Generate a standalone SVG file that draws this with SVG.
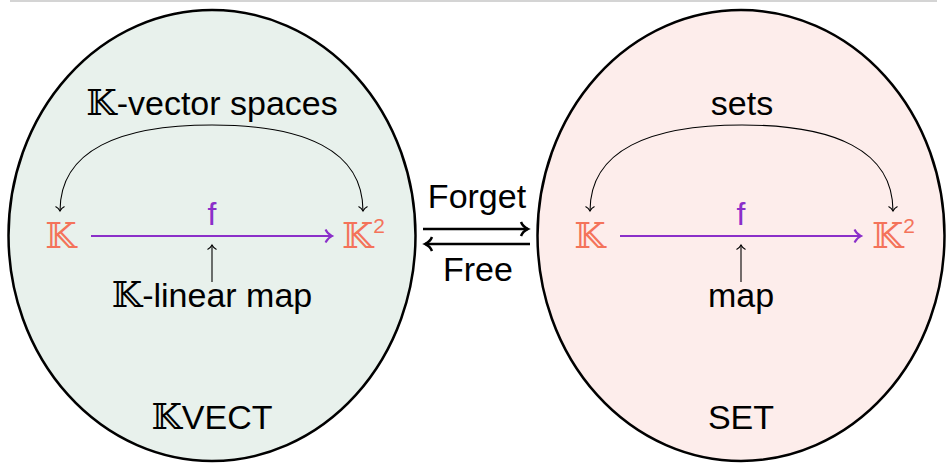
<svg xmlns="http://www.w3.org/2000/svg" width="947" height="465" viewBox="0 0 947 465">
<defs>
<style>
text{font-family:"Liberation Sans","DejaVu Sans",sans-serif;fill:#000;}
.t{font-size:34px;text-anchor:middle;}
.bb{font-family:"DejaVu Serif","DejaVu Sans",serif;font-size:35px;}
.k{font-family:"DejaVu Serif","DejaVu Sans",serif;font-size:36px;fill:#F4735A;}
.sup{font-family:"Liberation Sans","DejaVu Sans",sans-serif;font-size:21px;}
.f{font-size:32px;fill:#8B2FC9;text-anchor:middle;}
.thin{fill:none;stroke:#000;stroke-width:1.1;}
.purple{fill:none;stroke:#8B2FC9;stroke-width:2;}
.thick{fill:none;stroke:#000;stroke-width:2.5;}
</style>
<marker id="toThin" viewBox="-10 -10 20 20" markerWidth="20" markerHeight="20" refX="0" refY="0" orient="auto" markerUnits="userSpaceOnUse">
<path d="M-4.5,-4.5 C-3,-1.5 -0.8,-0.4 0,0 C-0.8,0.4 -3,1.5 -4.5,4.5" fill="none" stroke="#000" stroke-width="1.1"/>
</marker>
<marker id="toPurple" viewBox="-10 -10 20 20" markerWidth="20" markerHeight="20" refX="0" refY="0" orient="auto" markerUnits="userSpaceOnUse">
<path d="M-6.5,-6.5 C-4.5,-2 -1,-0.5 0,0 C-1,0.5 -4.5,2 -6.5,6.5" fill="none" stroke="#8B2FC9" stroke-width="2"/>
</marker>
<marker id="toThick" viewBox="-10 -10 20 20" markerWidth="20" markerHeight="20" refX="0" refY="0" orient="auto" markerUnits="userSpaceOnUse">
<path d="M-7,-7 C-5,-2 -1,-0.5 0,0 C-1,0.5 -5,2 -7,7" fill="none" stroke="#000" stroke-width="2.5"/>
</marker>
</defs>
<rect width="947" height="465" fill="#fff"/>
<line x1="10" y1="1" x2="937" y2="1" stroke="#aaa" stroke-width="1.2"/>

<g id="kvect">
<ellipse cx="212" cy="235.5" rx="203.5" ry="225.5" fill="#E8F1EC" stroke="#000" stroke-width="2.5"/>
<text class="t" x="212" y="429"><tspan class="bb">𝕂</tspan>VECT</text>
</g>
<g id="set">
<ellipse cx="741" cy="235.5" rx="203.5" ry="225.5" fill="#FDEDEB" stroke="#000" stroke-width="2.5"/>
<text class="t" x="741" y="429">SET</text>
</g>

<g id="k-left">
<text class="k" x="61" y="248" text-anchor="middle">𝕂</text>
</g>
<g id="k2-left">
<text class="k" x="342" y="248">𝕂<tspan class="sup" dy="-15">2</tspan></text>
</g>
<g id="k-right">
<text class="k" x="590" y="248" text-anchor="middle">𝕂</text>
</g>
<g id="k2-right">
<text class="k" x="872" y="248">𝕂<tspan class="sup" dy="-15">2</tspan></text>
</g>

<g id="labels">
<text class="t" x="212" y="115"><tspan class="bb">𝕂</tspan>-vector spaces</text>
<text class="t" x="212" y="307"><tspan class="bb">𝕂</tspan>-linear map</text>
<text class="t" x="742" y="115">sets</text>
<text class="t" x="741" y="307">map</text>
<text class="f" x="212" y="225">f</text>
<text class="f" x="741" y="225">f</text>
<text class="t" x="477" y="208">Forget</text>
<text class="t" x="478" y="281">Free</text>
</g>

<g id="connectors">
<path class="thin" d="M212,125 C120,125 60,150 60,211" marker-end="url(#toThin)"/>
<path class="thin" d="M212,125 C304,125 363,150 363,211" marker-end="url(#toThin)"/>
<path class="thin" d="M742,125 C650,125 590,150 590,211" marker-end="url(#toThin)"/>
<path class="thin" d="M742,125 C834,125 893,150 893,211" marker-end="url(#toThin)"/>
<line class="purple" x1="91" y1="236" x2="332" y2="236" marker-end="url(#toPurple)"/>
<line class="purple" x1="620" y1="236" x2="861" y2="236" marker-end="url(#toPurple)"/>
<line class="thin" x1="212" y1="282" x2="212" y2="245" marker-end="url(#toThin)"/>
<line class="thin" x1="741" y1="282" x2="741" y2="245" marker-end="url(#toThin)"/>
<line class="thick" x1="423" y1="229" x2="528" y2="229" marker-end="url(#toThick)"/>
<line class="thick" x1="530" y1="244" x2="425" y2="244" marker-end="url(#toThick)"/>
</g>
</svg>
